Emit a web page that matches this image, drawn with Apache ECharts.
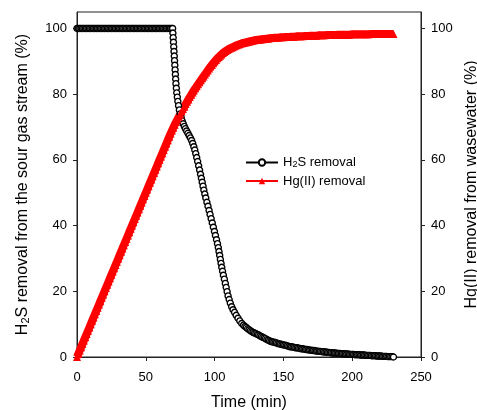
<!DOCTYPE html>
<html>
<head>
<meta charset="utf-8">
<script src="https://cdn.jsdelivr.net/npm/echarts@6/dist/echarts.min.js"></script>
<style>html,body{margin:0;padding:0;background:#fff}#c{width:477px;height:410px}</style>
</head>
<body>
<div id="c"></div>
<script>
// ---- data ----
const xTicks = [0, 50, 100, 150, 200, 250];
const yTicks = [0, 20, 40, 60, 80, 100];

const h2sTime = [
0,1,2,3,4,5,6,7,8,9,10,11,12,13,14,15,16,17,18,19,20,21,22,23,24,25,26,27,28,29,30,31,32,33,34,
35,36,37,38,39,40,41,42,43,44,45,46,47,48,49,50,51,52,53,54,55,56,57,58,59,60,61,62,63,64,65,66,67,68,69,
69.5,69.7,69.9,70.1,70.3,70.5,70.7,70.9,71.1,71.3,71.5,71.7,71.9,72.2,72.5,72.9,73.3,73.8,74.4,75.0,
75.7,76.4,77.2,78.0,78.8,79.7,80.6,81.5,82.4,83.3,84.1,84.9,85.6,86.3,87.0,87.7,88.4,89.1,89.8,90.4,
91.0,91.6,92.2,92.9,93.6,94.4,95.2,96.0,96.7,97.5,98.3,99.1,99.9,100.6,101.4,102.1,102.7,103.2,103.7,104.2,
104.7,105.2,105.8,106.4,107.1,107.8,108.4,109.1,109.8,110.6,111.4,112.4,113.4,114.5,115.7,117.0,118.3,119.7,
121,122,123,124,125,126,127,128,129,130,131,132,133,134,135,136,137,138,139,140,
141,142,143,144,145,146,147,148,149,150,151,152,153,154,155,156,157,158,159,160,
161,162,163,164,165,166,167,168,169,170,171,172,173,174,175,176,177,178,179,180,
181,182,183,184,185,186,187,188,189,190,191,192,193,194,195,196,197,198,199,200,
201,202,203,204,205,206,207,208,209,210,211,212,213,214,215,216,217,218,219,220,
221,222,223,224,225,226,227,228,229,230
];
const h2sRemoval = [
100,100,100,100,100,100,100,100,100,100,100,100,100,100,100,100,100,100,100,100,100,100,100,100,100,100,100,100,100,100,100,100,100,100,100,
100,100,100,100,100,100,100,100,100,100,100,100,100,100,100,100,100,100,100,100,100,100,100,100,100,100,100,100,100,100,100,100,100,100,100,
100,98.6,97.2,95.8,94.4,93.0,91.6,90.2,88.8,87.4,86.0,84.6,83.2,81.8,80.4,79.1,77.8,76.5,75.2,74.0,
72.9,71.9,71.0,70.2,69.5,68.8,68.1,67.4,66.7,65.9,65.0,64.0,63.0,61.9,60.7,59.5,58.2,56.9,55.6,54.4,
53.2,52.0,50.8,49.6,48.4,47.1,45.9,44.6,43.4,42.1,40.8,39.5,38.2,37.0,35.7,34.5,33.3,32.1,30.9,29.7,
28.5,27.3,26.1,24.9,23.7,22.4,21.2,19.9,18.6,17.5,16.4,15.3,14.4,13.6,12.7,11.8,11.0,10.2,
9.7,9.3,9.0,8.6,8.3,8.0,7.7,7.5,7.3,7.1,6.9,6.7,6.4,6.2,6.0,5.8,5.6,5.3,5.1,4.9,
4.7,4.6,4.5,4.4,4.3,4.1,4.0,3.9,3.8,3.7,3.6,3.5,3.4,3.2,3.1,3.1,3.0,2.9,2.8,2.8,
2.7,2.6,2.5,2.5,2.4,2.3,2.3,2.2,2.1,2.1,2.0,2.0,1.9,1.8,1.8,1.7,1.7,1.6,1.6,1.5,
1.5,1.4,1.4,1.3,1.3,1.2,1.2,1.2,1.1,1.1,1.1,1.0,1.0,1.0,0.9,0.9,0.9,0.8,0.8,0.8,
0.8,0.7,0.7,0.7,0.7,0.6,0.6,0.6,0.6,0.5,0.5,0.5,0.5,0.4,0.4,0.4,0.4,0.3,0.3,0.3,
0.3,0.2,0.2,0.2,0.2,0.1,0.1,0.1,0.1,0.0
];

const hgTime = [
0,1,2,3,4,5,6,7,8,9,10,11,12,13,14,15,16,17,18,19,20,21,22,23,24,25,26,27,28,29,30,31,32,33,34,
35,36,37,38,39,40,41,42,43,44,45,46,47,48,49,50,51,52,53,54,55,56,57,58,59,60,61,62,63,64,65,66,67,68,
69,70,71,72,73,74,75,76,77,78,79,80,81,82,83,84,85,86,87,88,89,90,91,92,93,94,95,96,97,98,99,100,
101,102,103,104,105,106,107,108,109,110,111,112,113,114,115,116,117,118,119,120,
121,122,123,124,125,126,127,128,129,130,131,132,133,134,135,136,137,138,139,140,
142,144,146,148,150,152,154,156,158,160,162,164,166,168,170,172,174,176,178,180,
182,184,186,188,190,192,194,196,198,200,202,204,206,208,210,212,214,216,218,220,
222,224,226,228,230
];
const hgRemoval = [
0,1,2,3,4,5,6,7,8,9,10,11,12,13,14,15,16,17,18,19,20,21,22,23,24,25,26,27,28,29,30,31,32,33,34,
35,36,37,38,39,40,41,42,43,44,45,46,47,48,49,50,51,52,53,54,55,56,57,58,59,60,61,62,63,64,65,66,67,68,
68.9,69.8,70.7,71.5,72.3,73.1,73.9,74.7,75.5,76.2,77.0,77.7,78.4,79.1,79.8,80.5,81.1,81.8,82.4,83.0,
83.6,84.2,84.8,85.4,86.0,86.6,87.2,87.8,88.4,88.9,89.4,89.9,
90.4,90.9,91.3,91.7,92.1,92.5,92.8,93.1,93.4,93.7,93.9,94.1,94.3,94.5,94.7,94.9,95.1,95.2,95.4,95.5,
95.6,95.7,95.8,95.9,96.0,96.1,96.2,96.3,96.4,96.5,96.5,96.6,96.6,96.7,96.7,96.8,96.8,96.9,96.9,97.0,
97.1,97.2,97.2,97.3,97.3,97.4,97.4,97.5,97.5,97.6,97.6,97.6,97.7,97.7,97.8,97.8,97.8,97.9,97.9,97.9,
98.0,98.0,98.0,98.0,98.1,98.1,98.1,98.1,98.1,98.2,98.2,98.2,98.2,98.2,98.2,98.2,98.3,98.3,98.3,98.3,
98.3,98.3,98.3,98.3,98.3
];

const seriesNames = ['H2S removal', 'Hg(II) removal'];

// ---- chart ----
const FONT = "'Liberation Sans', Arial, sans-serif";
const AX = '#222';
const chart = echarts.init(document.getElementById('c'), null, {renderer: 'canvas'});
const h2sData = h2sTime.map((t, i) => [t, h2sRemoval[i]]);
const hgData = hgTime.map((t, i) => [t, hgRemoval[i]]);

const richN = {fontSize: 13, fontFamily: FONT, color: '#000'};
const richS = {fontSize: 9, fontFamily: FONT, color: '#000', verticalAlign: 'bottom', padding: [5, 0, 0, 0]};
const nameN = {fontSize: 16, fontFamily: FONT, color: '#000'};
const nameS = {fontSize: 11, fontFamily: FONT, color: '#000', verticalAlign: 'bottom', padding: [6, 0, 0, 0]};

function yAxisCommon(pos, name, gap) {
  return {
    type: 'value', position: pos, min: 0, max: 105, interval: 20,
    name: name, nameLocation: 'middle', nameGap: gap, nameRotate: 90,
    nameTextStyle: {fontSize: 16, fontFamily: FONT, color: '#000', rich: {n: nameN, s: nameS}},
    axisLine: {show: true, lineStyle: {color: AX, width: 1}},
    axisTick: {show: true, inside: false, length: 4, lineStyle: {color: AX}, customValues: yTicks},
    axisLabel: {color: '#000', fontSize: 13, fontFamily: FONT, margin: 10, customValues: yTicks},
    splitLine: {show: false}
  };
}

chart.setOption({
  animation: false,
  backgroundColor: '#fff',
  grid: {left: 77, right: 56, top: 12, bottom: 53, show: true, borderColor: AX, borderWidth: 1,
         containLabel: false, outerBoundsMode: 'none'},
  legend: {
    orient: 'vertical', left: 240, top: 151, itemWidth: 32, itemHeight: 8, itemGap: 5,
    data: seriesNames,
    textStyle: {fontSize: 13, fontFamily: FONT, color: '#000', rich: {n: richN, s: richS}},
    formatter: function (name) {
      if (name === 'H2S removal') return '{n|H}{s|2}{n|S removal}';
      return '{n|' + name + '}';
    }
  },
  xAxis: {
    type: 'value', min: 0, max: 250, interval: 50,
    name: 'Time (min)', nameLocation: 'middle', nameGap: 38,
    nameTextStyle: {fontSize: 16, fontFamily: FONT, color: '#000'},
    axisLine: {show: true, onZero: false, lineStyle: {color: AX, width: 1}},
    axisTick: {show: true, inside: false, length: 4, lineStyle: {color: AX}},
    axisLabel: {color: '#000', fontSize: 13, fontFamily: FONT, margin: 14},
    splitLine: {show: false}
  },
  yAxis: [
    yAxisCommon('left', '{n|H}{s|2}{n|S removal from the sour gas stream (%)}', 46),
    yAxisCommon('right', 'Hg(II) removal from wasewater (%)', 36)
  ],
  series: [
    {
      name: seriesNames[0], type: 'line', yAxisIndex: 0, data: h2sData,
      symbol: 'circle', symbolSize: 6, showSymbol: true, clip: false,
      lineStyle: {color: '#000', width: 1},
      itemStyle: {color: '#fff', borderColor: '#000', borderWidth: 1.4}
    },
    {
      name: seriesNames[1], type: 'line', yAxisIndex: 1, data: hgData,
      symbol: 'triangle', symbolSize: 8, showSymbol: true, clip: false,
      lineStyle: {color: '#ff0000', width: 8},
      itemStyle: {color: '#ff0000', borderColor: '#ff0000', borderWidth: 0}
    }
  ]
});
</script>
</body>
</html>
